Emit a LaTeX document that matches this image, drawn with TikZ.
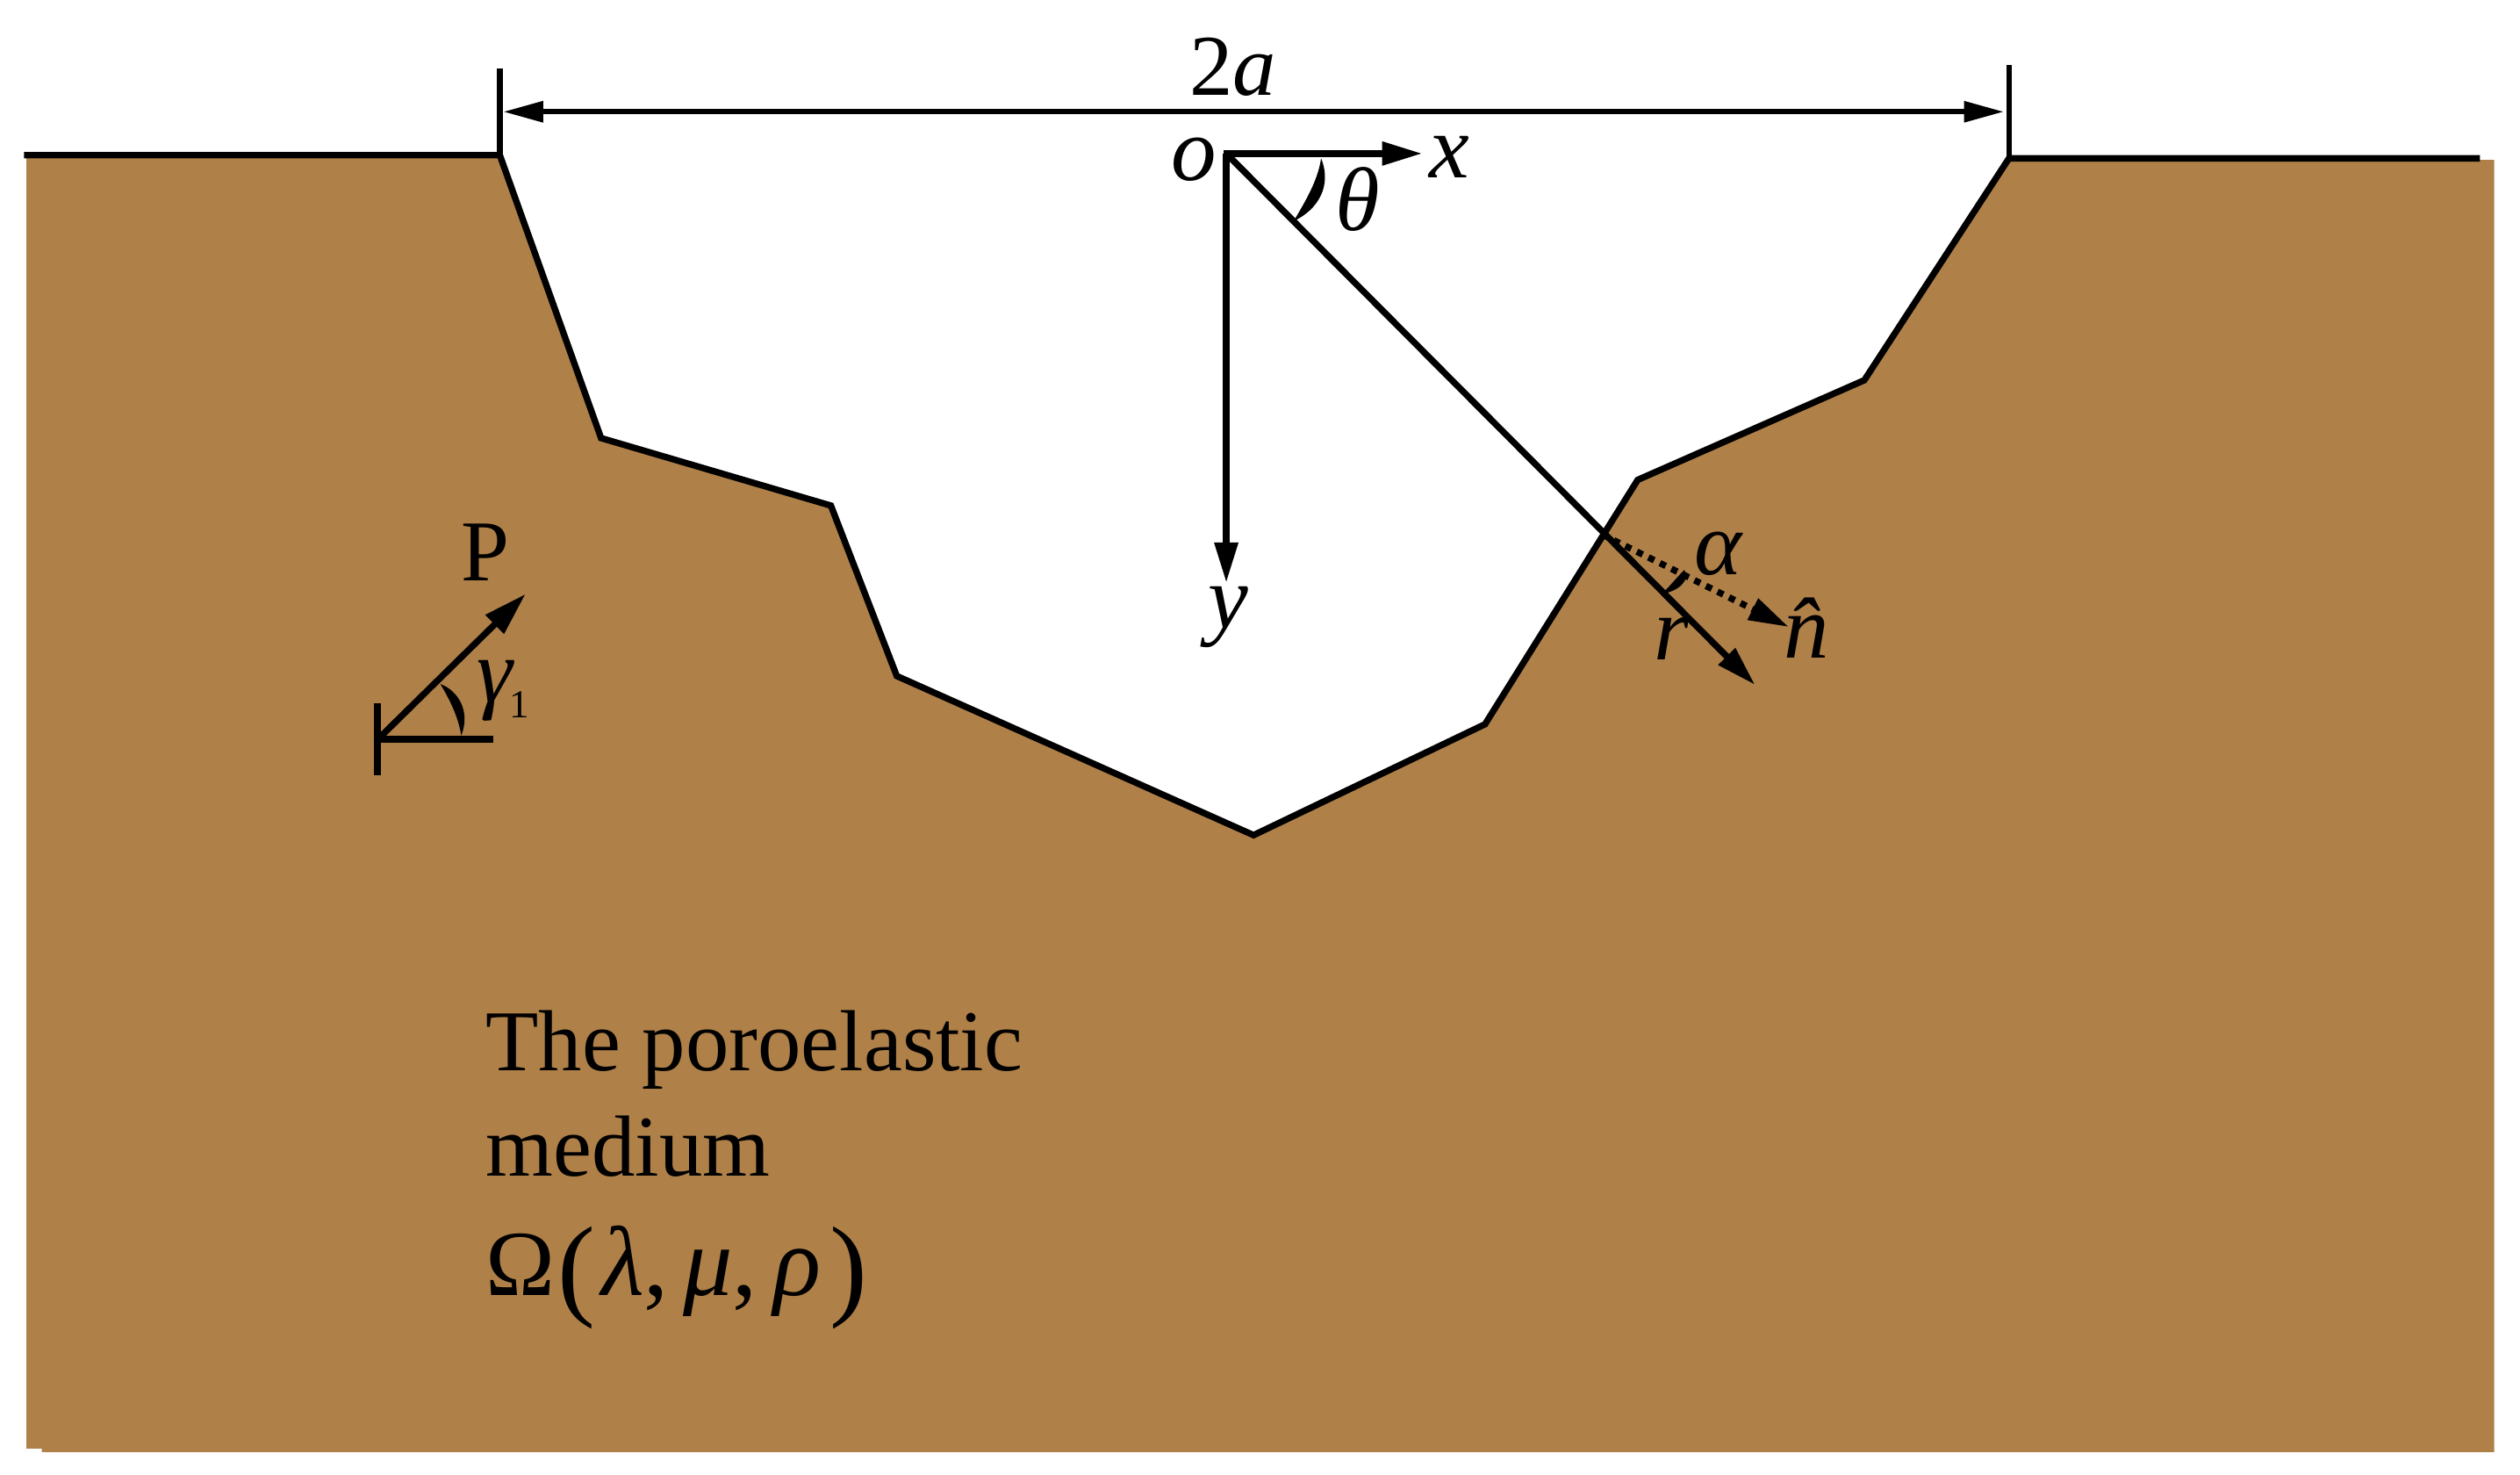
\documentclass[tikz,border=0pt]{standalone}
\usepackage{fontspec}
\setmainfont{Liberation Serif}
\usetikzlibrary{arrows.meta}
\definecolor{soil}{RGB}{175,128,72}
\tikzset{
  lbl/.style={font=\fontsize{30.7}{30.7}\selectfont, inner sep=0pt, text=black},
  lbli/.style={lbl, font=\fontsize{32}{32}\selectfont\itshape},
  thick line/.style={line width=0.08cm, draw=black},
  thin line/.style={line width=0.07cm, draw=black},
  big arrow/.style={thick line, -{Triangle[length=0.5cm,width=0.28cm]}},
  dim arrow/.style={thin line, {Triangle[length=0.5cm,width=0.25cm]}-{Triangle[length=0.5cm,width=0.25cm]}},
  dotted arrow/.style={line width=0.08cm, draw=black, dash pattern=on 0.08cm off 0.08cm, -{Triangle[length=0.5cm,width=0.28cm]}}
}
\begin{document}
\begin{tikzpicture}[x=0.02cm,y=-0.02cm]
\useasboundingbox (0,-0.5) rectangle (1568,916.5);
% soil
\fill[soil] (16.4,96) -- (311,96) -- (374,272) -- (517,314) -- (558,420) -- (780,519) -- (924,450) -- (1019,298) -- (1160,236) -- (1250,99) -- (1552,99) -- (1552,902.7) -- (26,902.7) -- (26,900.6) -- (16.4,900.6) -- cycle;
% named points
\coordinate (gl) at (15,96);
\coordinate (a1) at (311,96);
\coordinate (a2) at (374,272);
\coordinate (a3) at (517,314);
\coordinate (a4) at (558,420);
\coordinate (a5) at (780,519);
\coordinate (a6) at (924,450);
\coordinate (a7) at (1019,298);
\coordinate (a8) at (1160,236);
\coordinate (a9) at (1250,98);
\coordinate (gr) at (1543,98);
\coordinate (tl) at (311,42);
\coordinate (tr) at (1250,40);
\coordinate (dl) at (313,69);
\coordinate (dr) at (1247,69);
\coordinate (O) at (763,95);
\coordinate (xe) at (885,95);
\coordinate (ye) at (763,362);
\coordinate (re) at (1092,425.5);
\coordinate (hit) at (997,332);
\coordinate (ne) at (1113,389.5);
\coordinate (pb) at (235,459.5);
\coordinate (pe) at (327,369);
\coordinate (pf) at (307,459.5);
\coordinate (pt) at (235,437);
\coordinate (pd) at (235,482);
% outline
\draw[thick line, line join=miter] (gl) -- (a1) -- (a2) -- (a3) -- (a4) -- (a5) -- (a6) -- (a7) -- (a8) -- (a9) -- (gr);
\draw[thin line] (tl) -- (a1);
\draw[thin line] (tr) -- (a9);
\draw[dim arrow] (dl) -- (dr);
% axes
\draw[big arrow, shorten <=-1pt] (O) -- (xe);
\draw[big arrow] (O) -- (ye);
\draw[big arrow] (O) -- (re);
\draw[dotted arrow] (hit) -- (ne);
% P wave
\draw[line width=0.09cm] (pt) -- (pd);
\draw[line width=0.09cm] (pb) -- (pf);
\draw[thick line, -{Triangle[length=0.54cm,width=0.31cm]}] (pb) -- (pe);
% angle marks
\fill (805,137) .. controls (820,130) and (829,115) .. (822,98) .. controls (820,112) and (812,125) .. (805,137) -- cycle;
\fill (274,425) .. controls (285,429) and (293,442) .. (287,457) .. controls (285,445) and (280,435) .. (274,425) -- cycle;
\fill (1034,369) .. controls (1045,367) and (1052,360) .. (1048,354) .. controls (1044,358) and (1040,363) .. (1034,369) -- cycle;
% labels
\node[lbl, anchor=base] (l2a) at (767,59) {2\textit{a}};
\node[lbli, anchor=base] (lo) at (743,112) {o};
\node[lbli, anchor=base] (lx) at (902,110) {x};
\node[lbli, anchor=base] (lth) at (845,143) {θ};
\node[lbli, anchor=base] (ly) at (764,390) {y};
\node[lbli, anchor=base] (lal) at (1069,357) {α};
\node[lbli, anchor=base] (lr) at (1040,410) {r};
\node[lbli, anchor=base] (ln) at (1124,409) {\^{n}};
\node[lbl, anchor=base] (lP) at (302,361) {P};
\node[lbli, anchor=base] (lg) at (308,436) {γ};
\node[lbl, anchor=base, font=\fontsize{14}{14}\selectfont] (lg1) at (323,446) {1};
\node[lbl, anchor=base west] (t1) at (302,665.5) {The poroelastic};
\node[lbl, anchor=base west] (t2) at (302,731) {medium};
\node[lbl, anchor=base west] (t3) at (302,805.6) {\fontsize{33}{33}\selectfont Ω\kern1pt\raisebox{-0.12cm}{\fontsize{40}{40}\selectfont(}\kern2pt\fontsize{35}{35}\selectfont\textit{λ},\kern5pt\textit{μ},\kern6pt\textit{ρ}\kern3pt\raisebox{-0.12cm}{\fontsize{40}{40}\selectfont)}};
\end{tikzpicture}
\end{document}
